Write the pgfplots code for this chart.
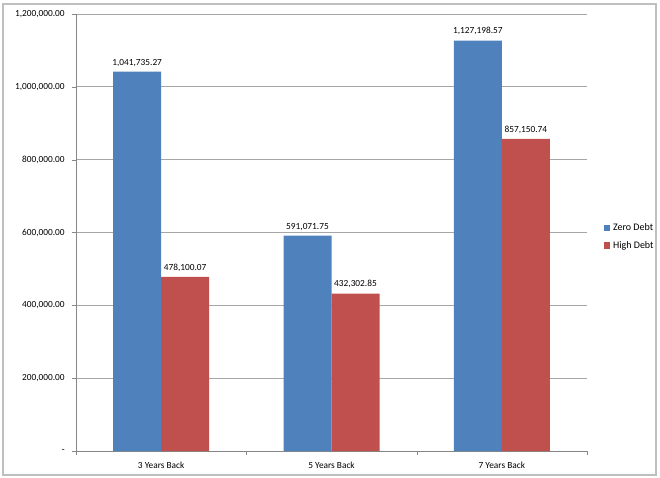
\documentclass[border=0pt]{standalone}
\usepackage{pgfplots}
\pgfplotsset{compat=1.18}
\usepackage{pgfplotstable}
\usepackage{fontspec}
\setmainfont{Carlito}

\definecolor{zeroblue}{HTML}{4F81BD}
\definecolor{highred}{HTML}{C0504D}
\definecolor{gridgray}{HTML}{A6A6A6}
\definecolor{axisgray}{HTML}{868686}
\definecolor{framegray}{HTML}{BFBFBF}

\pgfplotstableread{
x y label
0 1041735.27 {1,041,735.27}
1 591071.75 {591,071.75}
2 1127198.57 {1,127,198.57}
}\zerodebt

\pgfplotstableread{
x y label
0 478100.07 {478,100.07}
1 432302.85 {432,302.85}
2 857150.74 {857,150.74}
}\highdebt

\pgfplotsset{
  sqlegend/.style={legend image code/.code={
    \fill[##1] (0pt,-2.4pt) rectangle (4.8pt,2.4pt);}},
}

\begin{document}
\begin{tikzpicture}
\draw[framegray, line width=0.8pt] (2.25pt,2.25pt) rectangle (492pt,355.5pt);
\begin{axis}[
  at={(57pt,20.25pt)}, anchor=south west,
  scale only axis,
  width=383.25pt, height=327.75pt,
  font=\fontsize{7}{8}\selectfont,
  ybar=0pt, bar width=36pt,
  xmin=-0.5, xmax=2.5,
  ymin=0, ymax=1200000,
  axis x line*=bottom, axis y line*=left,
  axis line style={axisgray, -},
  xtick={0,1,2},
  xticklabels={3 Years Back, 5 Years Back, 7 Years Back},
  minor xtick={-0.5,0.5,1.5,2.5},
  major x tick style={draw=none},
  minor x tick style={axisgray},
  minor tick length=3pt,
  ytick={0,200000,400000,600000,800000,1000000,1200000},
  yticklabels={{-},{200,000.00},{400,000.00},{600,000.00},{800,000.00},{1,000,000.00},{1,200,000.00}},
  scaled y ticks=false,
  y tick style={axisgray},
  major tick length=3pt,
  tick align=outside,
  ymajorgrids=true,
  grid style={gridgray, line width=0.6pt},
  yticklabel style={xshift=-2pt},
  xticklabel style={yshift=-1.5pt},
  nodes near coords,
  point meta=explicit symbolic,
  every node near coord/.append style={font=\fontsize{7}{8}\selectfont, black, yshift=0.5pt},
  legend style={at={(1.025,0.49)}, anchor=west, draw=none, fill=none,
    font=\fontsize{7.5}{9}\selectfont, row sep=2.5pt,
    legend cell align=left},
]
\addplot[fill=zeroblue, draw=none, sqlegend] table[x=x, y=y, meta=label] {\zerodebt};
\addlegendentry{Zero Debt}
\addplot[fill=highred, draw=none, sqlegend] table[x=x, y=y, meta=label] {\highdebt};
\addlegendentry{High Debt}
\end{axis}
\pgfresetboundingbox
\path (0pt,0pt) rectangle (495pt,358.5pt);
\end{tikzpicture}
\end{document}
